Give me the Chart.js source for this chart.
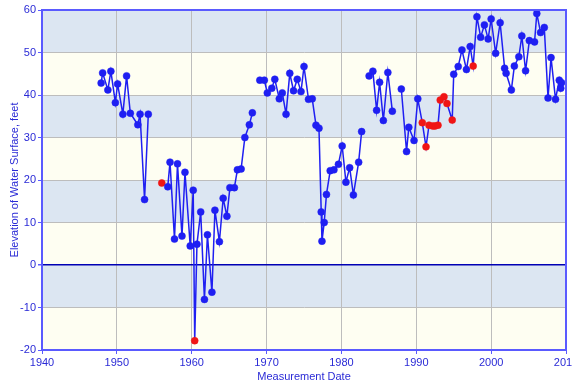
<!DOCTYPE html>
<html>
<head>
<meta charset="utf-8">
<script src="https://cdn.jsdelivr.net/npm/chart.js@4/dist/chart.umd.min.js"></script>
<style>
  body { margin: 0; background: #fff; }
  #wrap { width: 572px; height: 385px; }
</style>
</head>
<body>
<div id="wrap"><canvas id="levelChart" width="572" height="385"></canvas></div>
<script>
// measurement dates (decimal years) and water surface elevation, feet
const years = [
  1947.9, 1948.1, 1948.8, 1949.2, 1949.8, 1950.1, 1950.8, 1951.3, 1951.8, 1952.8,
  1953.1, 1953.7, 1954.2, 1956.0, 1956.8, 1957.1, 1957.7, 1958.1, 1958.7, 1959.1,
  1959.8, 1960.2, 1960.4, 1960.7, 1961.2, 1961.7, 1962.1, 1962.7, 1963.1, 1963.7,
  1964.2, 1964.7, 1965.1, 1965.7, 1966.1, 1966.6, 1967.1, 1967.7, 1968.1, 1969.1,
  1969.7, 1970.1, 1970.7, 1971.1, 1971.7, 1972.1, 1972.6, 1973.1, 1973.6, 1974.1,
  1974.6, 1975.0, 1975.6, 1976.1, 1976.6, 1977.0, 1977.3, 1977.4, 1977.7, 1978.0,
  1978.5, 1979.0, 1979.6, 1980.1, 1980.6, 1981.1, 1981.6, 1982.3, 1982.7, 1983.7,
  1984.2, 1984.7, 1985.1, 1985.6, 1986.2, 1986.8, 1988.0, 1988.7, 1989.0, 1989.7,
  1990.2, 1990.8, 1991.3, 1991.7, 1992.2, 1992.5, 1992.9, 1993.2, 1993.7, 1994.1,
  1994.8, 1995.0, 1995.6, 1996.1, 1996.7, 1997.2, 1997.6, 1998.1, 1998.6, 1999.1,
  1999.6, 2000.0, 2000.6, 2001.2, 2001.8, 2002.0, 2002.7, 2003.1, 2003.7, 2004.1,
  2004.6, 2005.1, 2005.8, 2006.1, 2006.6, 2007.1, 2007.6, 2008.0, 2008.6, 2009.1,
  2009.3, 2009.4
];
const levels = [
  42.8, 45.2, 41.2, 45.6, 38.2, 42.6, 35.5, 44.5, 35.7, 33.0,
  35.5, 15.4, 35.5, 19.3, 18.4, 24.2, 6.1, 23.8, 6.8, 21.8,
  4.5, 17.6, -17.8, 4.9, 12.5, -8.1, 7.1, -6.4, 12.9, 5.5,
  15.7, 11.5, 18.2, 18.2, 22.4, 22.6, 30.0, 33.0, 35.8, 43.5,
  43.5, 40.5, 41.6, 43.7, 39.1, 40.5, 35.5, 45.1, 41.0, 43.7,
  40.8, 46.7, 39.0, 39.1, 32.9, 32.2, 12.5, 5.6, 10.0, 16.6,
  22.2, 22.4, 23.7, 28.0, 19.5, 22.9, 16.5, 24.2, 31.4, 44.5,
  45.6, 36.4, 43.0, 34.0, 45.3, 36.2, 41.4, 26.7, 32.4, 29.3,
  39.1, 33.5, 27.8, 32.9, 32.7, 32.7, 32.9, 38.8, 39.6, 38.0,
  34.1, 44.9, 46.7, 50.6, 46.0, 51.4, 46.8, 58.4, 53.6, 56.5,
  53.2, 57.9, 49.8, 57.0, 46.3, 45.1, 41.2, 46.8, 49.0, 53.9,
  45.7, 52.8, 52.5, 59.2, 54.7, 55.9, 39.3, 48.8, 39.0, 43.5,
  41.6, 42.9
];
// measurements drawn in red
const redYears = [1956.0, 1960.4, 1990.8, 1991.3, 1991.7, 1992.2, 1992.5, 1992.9,
  1993.2, 1993.7, 1994.1, 1994.8, 1997.6];
// the line starts again at these dates (no connecting segment before them)
const breaksBefore = [1956.0, 1956.8, 1969.1, 1983.7, 1988.0];
const yTicks = [-20, -10, 0, 10, 20, 30, 40, 50, 60];
const xTicks = [1940, 1950, 1960, 1970, 1980, 1990, 2000, 2010];

const BLUE = "#1f1ff2";
const RED = "#f01515";
const AXIS = "#5a5aff";
const TEXT = "#2a2ad6";

const points = years.map((y, i) => ({ x: y, y: levels[i] }));
const pointColors = years.map((y) => (redYears.includes(y) ? RED : BLUE));

const bandPlugin = {
  id: "bands",
  beforeDraw(chart) {
    const { ctx, chartArea: a, scales } = chart;
    const ys = scales.y;
    ctx.save();
    for (let i = 0; i < yTicks.length - 1; i++) {
      const top = ys.getPixelForValue(yTicks[i + 1]);
      const bot = ys.getPixelForValue(yTicks[i]);
      ctx.fillStyle = i % 2 === 1 ? "#dce6f2" : "#fefef2";
      ctx.fillRect(a.left, top, a.right - a.left, bot - top);
    }
    ctx.restore();
  },
  afterDatasetsDraw(chart) {
    const { ctx, chartArea: a } = chart;
    ctx.save();
    ctx.strokeStyle = AXIS;
    ctx.lineWidth = 2;
    ctx.strokeRect(a.left, a.top, a.right - a.left, a.bottom - a.top);
    ctx.restore();
  },
};

new Chart(document.getElementById("levelChart").getContext("2d"), {
  type: "line",
  data: {
    datasets: [
      {
        data: points,
        borderColor: BLUE,
        borderWidth: 1.5,
        pointRadius: 3.5,
        pointBackgroundColor: pointColors,
        pointBorderColor: pointColors,
        pointBorderWidth: 0.5,
        tension: 0,
        segment: {
          borderColor: (c) =>
            breaksBefore.includes(years[c.p1DataIndex]) ? "rgba(0,0,0,0)" : BLUE,
        },
      },
    ],
  },
  options: {
    responsive: false,
    animation: false,
    layout: { padding: { top: 10, right: 6, left: 0, bottom: 0 } },
    plugins: { legend: { display: false }, tooltip: { enabled: false } },
    scales: {
      x: {
        type: "linear",
        min: 1940,
        max: 2010,
        afterBuildTicks: (s) => { s.ticks = xTicks.map((v) => ({ value: v })); },
        afterFit: (s) => { s.height = 35; s.paddingLeft = 0; s.paddingRight = 0; },
        ticks: {
          color: TEXT,
          font: { family: "Liberation Sans, Arial", size: 11 },
          padding: 2,
          maxRotation: 0,
          callback: (v) => String(v),
        },
        grid: { color: "#bdbdbd", tickColor: AXIS, tickLength: 4 },
        border: { color: AXIS, width: 2 },
        title: {
          display: true,
          text: "Measurement Date",
          color: TEXT,
          font: { family: "Liberation Sans, Arial", size: 11 },
          padding: { top: 0, bottom: 1 },
        },
      },
      y: {
        min: -20,
        max: 60,
        afterBuildTicks: (s) => { s.ticks = yTicks.map((v) => ({ value: v })); },
        afterFit: (s) => { s.width = 42; },
        ticks: {
          color: TEXT,
          font: { family: "Liberation Sans, Arial", size: 11 },
          padding: 2,
        },
        grid: {
          color: (c) => (c.tick && c.tick.value === 0 ? "#0000b4" : "#bdbdbd"),
          lineWidth: (c) => (c.tick && c.tick.value === 0 ? 1.5 : 1),
          tickColor: AXIS,
          tickLength: 4,
        },
        border: { color: AXIS, width: 2 },
        title: {
          display: true,
          text: "Elevation of Water Surface, feet",
          color: TEXT,
          font: { family: "Liberation Sans, Arial", size: 11 },
          padding: { top: 8, bottom: 0 },
        },
      },
    },
  },
  plugins: [bandPlugin],
});
</script>
</body>
</html>
